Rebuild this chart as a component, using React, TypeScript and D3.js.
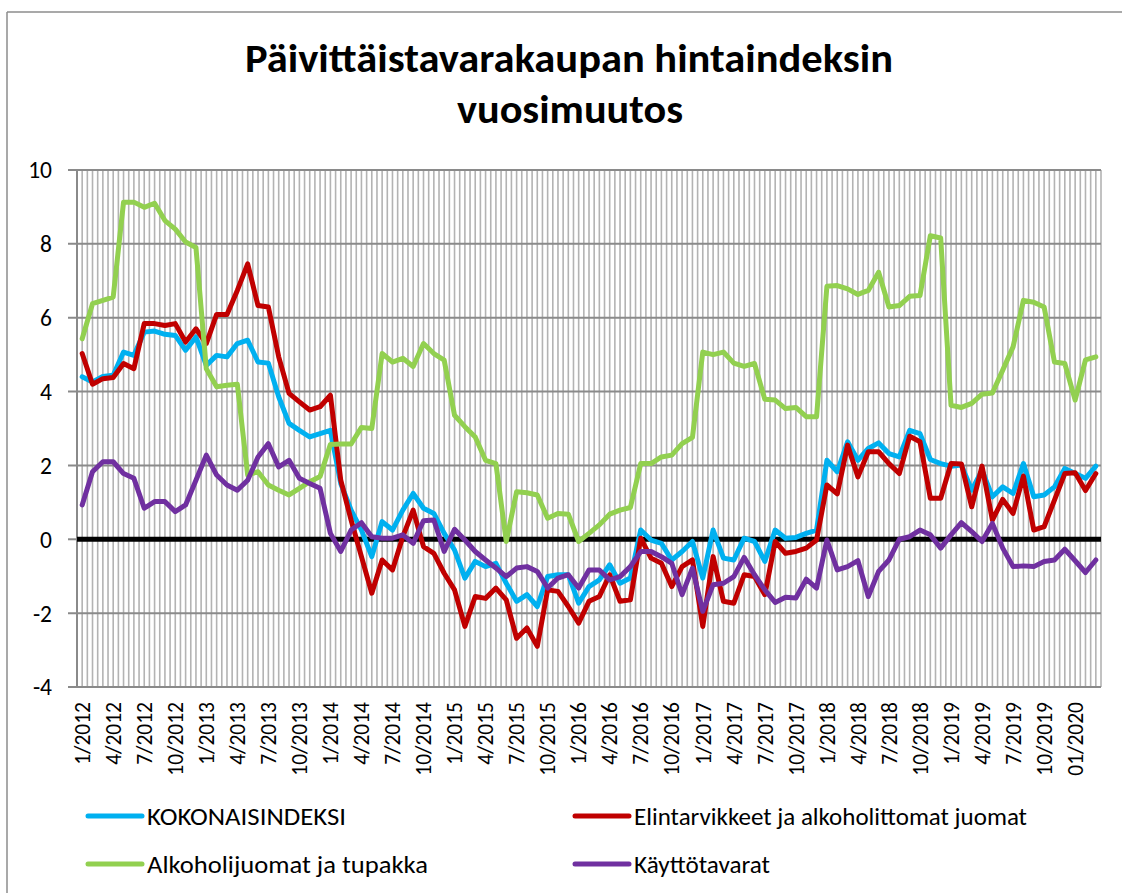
import React from 'react';
import * as d3 from 'd3';

// chart values, monthly 1/2012 .. 3/2020
const startMonth = new Date(2012, 0, 1);
const monthCount = 99;

const tickLabels = [
  '1/2012', '4/2012', '7/2012', '10/2012',
  '1/2013', '4/2013', '7/2013', '10/2013',
  '1/2014', '4/2014', '7/2014', '10/2014',
  '1/2015', '4/2015', '7/2015', '10/2015',
  '1/2016', '4/2016', '7/2016', '10/2016',
  '1/2017', '4/2017', '7/2017', '10/2017',
  '1/2018', '4/2018', '7/2018', '10/2018',
  '1/2019', '4/2019', '7/2019', '10/2019',
  '01/2020',
];

const yTicks = [-4, -2, 0, 2, 4, 6, 8, 10];

const kokonaisindeksi = [
  4.4, 4.26, 4.41, 4.44, 5.07, 4.98, 5.61, 5.64, 5.55, 5.52, 5.12, 5.48,
  4.71, 4.98, 4.94, 5.3, 5.39, 4.8, 4.77, 3.86, 3.14, 2.95, 2.77, 2.86,
  2.95, 1.51, 0.79, 0.25, -0.47, 0.48, 0.25, 0.79, 1.24, 0.84, 0.7, 0.16,
  -0.29, -1.05, -0.6, -0.74, -0.65, -1.19, -1.68, -1.5, -1.82, -1.01, -0.96, -0.96,
  -1.73, -1.28, -1.1, -0.69, -1.19, -1.05, 0.25, -0.02, -0.11, -0.56, -0.33, -0.06,
  -1.05, 0.25, -0.51, -0.56, 0.03, -0.06, -0.6, 0.25, 0.03, 0.05, 0.16, 0.25,
  2.14, 1.83, 2.64, 2.14, 2.46, 2.61, 2.32, 2.23, 2.95, 2.86, 2.16, 2.05,
  1.98, 2.01, 1.33, 1.87, 1.15, 1.42, 1.24, 2.05, 1.15, 1.2, 1.42, 1.92,
  1.78, 1.65, 1.98,
];

const elintarvikkeet = [
  5.03, 4.2, 4.35, 4.38, 4.76, 4.62, 5.84, 5.84, 5.79, 5.84, 5.34, 5.7,
  5.3, 6.09, 6.09, 6.74, 7.46, 6.33, 6.29, 4.94, 3.95, 3.72, 3.5, 3.59,
  3.9, 1.6, 0.52, -0.47, -1.46, -0.56, -0.83, 0.07, 0.79, -0.2, -0.38, -0.92,
  -1.37, -2.36, -1.55, -1.6, -1.32, -1.64, -2.68, -2.4, -2.9, -1.37, -1.41, -1.82,
  -2.27, -1.68, -1.55, -0.96, -1.68, -1.64, 0.03, -0.51, -0.65, -1.28, -0.74, -0.56,
  -2.36, -0.47, -1.68, -1.73, -0.96, -1.01, -1.5, -0.06, -0.38, -0.33, -0.24, -0.02,
  1.47, 1.23, 2.55, 1.69, 2.37, 2.37, 2.05, 1.78, 2.79, 2.64, 1.11, 1.11,
  2.05, 2.04, 0.88, 1.98, 0.52, 1.08, 0.7, 1.71, 0.25, 0.34, 1.06, 1.78,
  1.8, 1.32, 1.78,
];

const alkoholijuomat = [
  5.43, 6.38, 6.47, 6.56, 9.13, 9.13, 8.99, 9.1, 8.63, 8.4, 8.05, 7.9,
  4.62, 4.13, 4.17, 4.2, 1.74, 1.83, 1.47, 1.33, 1.2, 1.38, 1.56, 1.7,
  2.57, 2.58, 2.58, 3.03, 3.0, 5.03, 4.8, 4.9, 4.68, 5.3, 5.03, 4.85,
  3.36, 3.05, 2.77, 2.14, 2.05, -0.06, 1.29, 1.26, 1.2, 0.57, 0.7, 0.68,
  -0.06, 0.16, 0.39, 0.68, 0.79, 0.86, 2.05, 2.05, 2.23, 2.28, 2.59, 2.76,
  5.07, 5.0, 5.07, 4.77, 4.68, 4.76, 3.79, 3.77, 3.54, 3.57, 3.32, 3.32,
  6.85, 6.87, 6.78, 6.63, 6.74, 7.23, 6.29, 6.33, 6.58, 6.6, 8.22, 8.16,
  3.63, 3.57, 3.68, 3.93, 3.96, 4.58, 5.21, 6.47, 6.42, 6.29, 4.8, 4.76,
  3.77, 4.86, 4.94,
];

const kayttotavarat = [
  0.93, 1.83, 2.1, 2.1, 1.78, 1.65, 0.84, 1.02, 1.02, 0.75, 0.93, 1.6,
  2.28, 1.74, 1.47, 1.33, 1.6, 2.23, 2.59, 1.96, 2.14, 1.65, 1.51, 1.38,
  0.16, -0.33, 0.25, 0.45, 0.07, 0.03, 0.03, 0.12, -0.11, 0.5, 0.52, -0.33,
  0.27, -0.02, -0.33, -0.56, -0.78, -1.01, -0.78, -0.74, -0.87, -1.32, -1.05, -0.96,
  -1.32, -0.83, -0.83, -1.1, -1.01, -0.74, -0.33, -0.33, -0.47, -0.65, -1.5, -0.78,
  -1.95, -1.23, -1.19, -1.01, -0.49, -0.96, -1.37, -1.71, -1.57, -1.59, -1.08, -1.32,
  -0.02, -0.83, -0.74, -0.58, -1.55, -0.87, -0.56, 0, 0.07, 0.25, 0.12, -0.24,
  0.12, 0.45, 0.21, -0.06, 0.43, -0.24, -0.74, -0.72, -0.74, -0.6, -0.56, -0.27,
  -0.58, -0.9, -0.56,
];

const seriesNames = [
  'KOKONAISINDEKSI',
  'Elintarvikkeet ja alkoholittomat juomat',
  'Alkoholijuomat ja tupakka',
  'Käyttötavarat',
];
const seriesValues = [kokonaisindeksi, elintarvikkeet, alkoholijuomat, kayttotavarat];
const seriesColors = ['#00B0F0', '#C00000', '#92D050', '#7030A0'];
// text widths in the reference (Calibri); Lato is stretched to match
const legendWidths = [199, 393, 281, 136];

const W = 1122;
const H = 893;
const FONT = 'Calibri, Carlito, Lato, sans-serif';

export default function App() {
  const months = d3.timeMonth.range(startMonth, d3.timeMonth.offset(startMonth, monthCount));

  const x = d3.scaleBand<number>()
    .domain(d3.range(months.length))
    .range([77, 1101])
    .padding(0);
  const bw = x.bandwidth();
  const cx = (i: number) => (x(i) as number) + bw / 2;

  const y = d3.scaleLinear().domain([-4, 10]).range([687, 170]);

  const line = d3.line<number>()
    .x((_, i) => cx(i))
    .y(d => y(d));

  // light vertical grid, two per month
  const vGrid = d3.range(1, months.length * 2 + 1).map(k => 77 + k * bw / 2);

  return (
    <svg width={W} height={H} style={{ position: 'absolute', left: 0, top: 0, background: '#fff' }}
      fontFamily={FONT}>
      {/* chart frame */}
      <line x1={7} x2={W} y1={12} y2={12} stroke="#8c8c8c" strokeWidth={1.5} />
      <line x1={7} x2={7} y1={12} y2={H} stroke="#8c8c8c" strokeWidth={1.5} />

      <text x={569} y={72} textAnchor="middle" fontSize={40} fontWeight="bold" fill="#000"
        textLength={648} lengthAdjust="spacingAndGlyphs">
        Päivittäistavarakaupan hintaindeksin
      </text>
      <text x={570} y={123} textAnchor="middle" fontSize={40} fontWeight="bold" fill="#000"
        textLength={226} lengthAdjust="spacingAndGlyphs">
        vuosimuutos
      </text>

      <g>
        {vGrid.map((gx, k) => (
          <line key={k} x1={gx} x2={gx} y1={y(10)} y2={y(-4)} stroke="#b3b3b3" strokeWidth={1.6} />
        ))}
      </g>

      <g>
        {yTicks.filter(t => t !== 0).map(t => (
          <line key={t} x1={68} x2={1101} y1={y(t)} y2={y(t)} stroke="#8a8a8a" strokeWidth={2} />
        ))}
        <line x1={68} x2={77} y1={y(0)} y2={y(0)} stroke="#8a8a8a" strokeWidth={2} />
        <line x1={77} x2={77} y1={y(10)} y2={y(-4)} stroke="#8a8a8a" strokeWidth={2} />
        {yTicks.map(t => (
          <text key={t} x={52} y={y(t)} dy="0.36em" textAnchor="end" fontSize={23.5} fill="#000">
            {t}
          </text>
        ))}
      </g>

      <line x1={77} x2={1101} y1={y(0)} y2={y(0)} stroke="#000" strokeWidth={5} />

      <g>
        {tickLabels.map((lab, k) => {
          const tx = cx(k * 3);
          return (
            <text key={lab} transform={`translate(${tx},702) rotate(-90)`} dy="0.36em"
              textAnchor="end" fontSize={21.5} fill="#000">
              {lab}
            </text>
          );
        })}
      </g>

      <g>
        {seriesValues.map((vals, s) => (
          <path key={s} d={line(vals) || ''} fill="none" stroke={seriesColors[s]}
            strokeWidth={5} strokeLinejoin="round" strokeLinecap="round" />
        ))}
      </g>

      <g>
        {seriesNames.map((name, s) => {
          const lx = s % 2 === 0 ? 88 : 575;
          const ly = s < 2 ? 816 : 864;
          return (
            <g key={name}>
              <line x1={lx} x2={lx + 54} y1={ly} y2={ly} stroke={seriesColors[s]} strokeWidth={5}
                strokeLinecap="round" />
              <text x={lx + 59} y={ly} dy="0.36em" fontSize={24} fill="#000"
                textLength={legendWidths[s]} lengthAdjust="spacingAndGlyphs">
                {name}
              </text>
            </g>
          );
        })}
      </g>
    </svg>
  );
}
